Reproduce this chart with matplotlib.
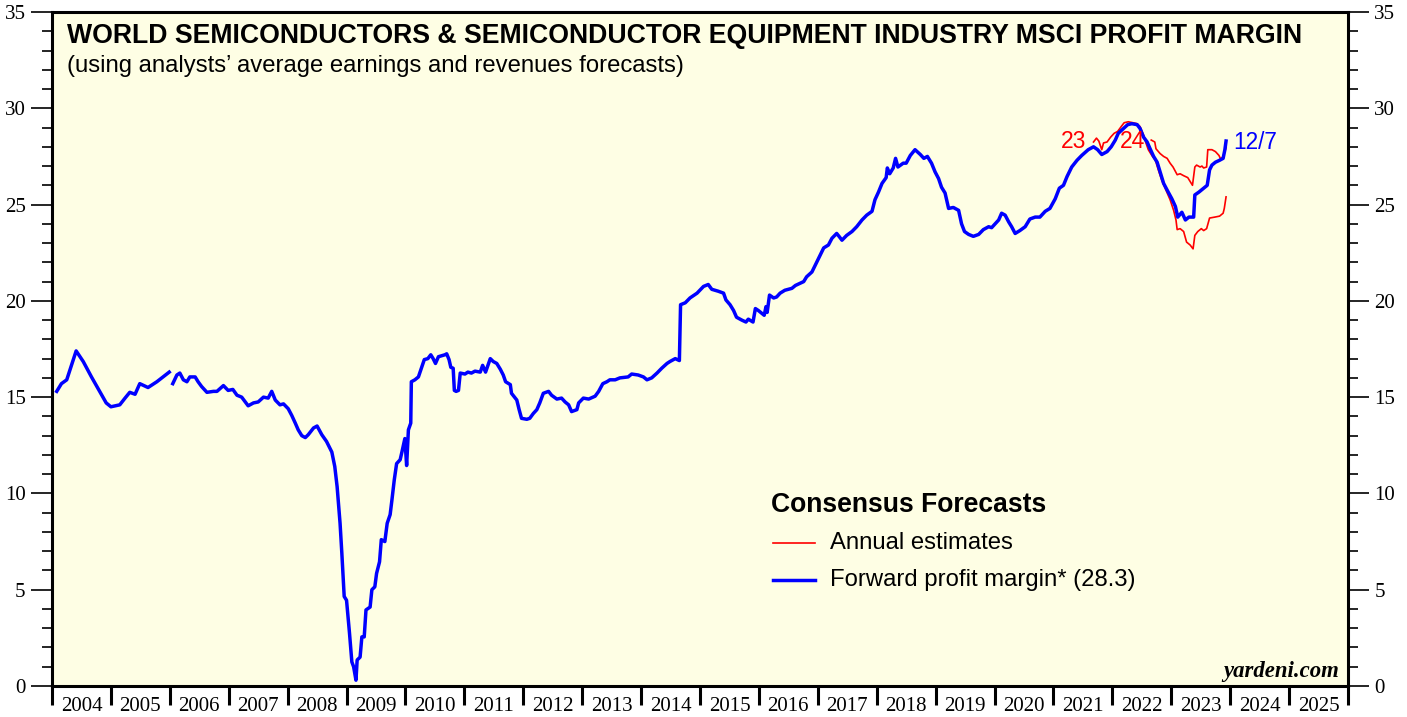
import numpy as np
import matplotlib
matplotlib.use("Agg")
import matplotlib.pyplot as plt
from matplotlib.ticker import MultipleLocator, FixedLocator, NullFormatter

# forward profit margin (blue), NaN marks the gap early 2006
blue_dates = [
    2004.08, 2004.16, 2004.25, 2004.41, 2004.53, 2004.67, 2004.81, 2004.92, 2005.00, 2005.15,
    2005.24, 2005.32, 2005.41, 2005.49, 2005.63, 2005.78, 2005.99, 2006.02,
    2006.05, 2006.12, 2006.17, 2006.23, 2006.29, 2006.34, 2006.43, 2006.48, 2006.54, 2006.63,
    2006.74, 2006.80, 2006.91, 2006.99, 2007.07, 2007.14, 2007.22, 2007.33, 2007.42, 2007.50,
    2007.59, 2007.67, 2007.73, 2007.79, 2007.87, 2007.93, 2008.01, 2008.07, 2008.13, 2008.18,
    2008.24, 2008.30, 2008.35, 2008.44, 2008.50, 2008.58, 2008.66, 2008.75, 2008.80, 2008.84,
    2008.89, 2008.92, 2008.96, 2009.00, 2009.05, 2009.09, 2009.12, 2009.16, 2009.18, 2009.23,
    2009.26, 2009.30, 2009.33, 2009.40, 2009.43, 2009.48, 2009.51, 2009.56, 2009.59, 2009.65,
    2009.69, 2009.74, 2009.77, 2009.81, 2009.85, 2009.91, 2009.94, 2009.99, 2010.02, 2010.05,
    2010.09, 2010.10, 2010.16, 2010.22, 2010.28, 2010.32, 2010.38, 2010.43, 2010.47, 2010.51,
    2010.56, 2010.67, 2010.70, 2010.74, 2010.77, 2010.81, 2010.83, 2010.86, 2010.90, 2010.93,
    2011.01, 2011.06, 2011.12, 2011.18, 2011.27, 2011.31, 2011.36, 2011.44, 2011.49, 2011.55,
    2011.61, 2011.66, 2011.70, 2011.78, 2011.80, 2011.89, 2011.93, 2011.97, 2012.06, 2012.11,
    2012.17, 2012.23, 2012.28, 2012.34, 2012.43, 2012.48, 2012.57, 2012.65, 2012.71, 2012.77,
    2012.82, 2012.91, 2012.94, 2013.02, 2013.11, 2013.22, 2013.28, 2013.35, 2013.42, 2013.47,
    2013.56, 2013.64, 2013.78, 2013.84, 2013.95, 2014.04, 2014.10, 2014.18, 2014.27, 2014.35,
    2014.44, 2014.49, 2014.58, 2014.65, 2014.67, 2014.75, 2014.83, 2014.95, 2015.06, 2015.14,
    2015.20, 2015.31, 2015.40, 2015.44, 2015.51, 2015.57, 2015.62, 2015.71, 2015.78, 2015.82,
    2015.90, 2015.94, 2015.99, 2016.05, 2016.09, 2016.12, 2016.14, 2016.18, 2016.25, 2016.30,
    2016.36, 2016.44, 2016.56, 2016.62, 2016.69, 2016.76, 2016.81, 2016.90, 2016.98, 2017.10,
    2017.18, 2017.24, 2017.32, 2017.36, 2017.41, 2017.49, 2017.58, 2017.66, 2017.75, 2017.83,
    2017.92, 2017.97, 2018.03, 2018.09, 2018.16, 2018.18, 2018.22, 2018.28, 2018.32, 2018.36,
    2018.45, 2018.50, 2018.57, 2018.65, 2018.74, 2018.80, 2018.86, 2018.93, 2018.99, 2019.05,
    2019.10, 2019.16, 2019.22, 2019.30, 2019.39, 2019.44, 2019.49, 2019.56, 2019.64, 2019.73,
    2019.81, 2019.90, 2019.95, 2020.01, 2020.07, 2020.12, 2020.18, 2020.24, 2020.29, 2020.35,
    2020.43, 2020.52, 2020.60, 2020.69, 2020.77, 2020.86, 2020.94, 2021.03, 2021.10, 2021.17,
    2021.23, 2021.31, 2021.40, 2021.48, 2021.59, 2021.68, 2021.75, 2021.82, 2021.91, 2021.98,
    2022.05, 2022.10, 2022.19, 2022.26, 2022.33, 2022.42, 2022.47, 2022.53, 2022.59, 2022.64,
    2022.70, 2022.76, 2022.81, 2022.87, 2022.93, 2023.01, 2023.07, 2023.11, 2023.18, 2023.24,
    2023.30, 2023.38, 2023.40, 2023.47, 2023.55, 2023.61, 2023.65, 2023.69, 2023.75, 2023.82,
    2023.88, 2023.91, 2023.93,
]
blue_values = [
    15.3, 15.7, 15.9, 17.4, 16.85, 16.05, 15.3, 14.7, 14.5, 14.6,
    14.95, 15.25, 15.15, 15.7, 15.5, 15.8, 16.3, np.nan,
    15.7, 16.15, 16.25, 15.9, 15.8, 16.05, 16.05, 15.8, 15.55, 15.25,
    15.3, 15.3, 15.6, 15.35, 15.4, 15.1, 15.0, 14.55, 14.7, 14.75,
    15.0, 14.95, 15.3, 14.85, 14.6, 14.65, 14.4, 14.05, 13.65, 13.3,
    13.0, 12.9, 13.05, 13.4, 13.5, 13.05, 12.7, 12.15, 11.4, 10.35,
    8.45, 6.9, 4.65, 4.45, 2.75, 1.25, 1.0, 0.3, 1.35, 1.5,
    2.55, 2.55, 3.95, 4.1, 5.0, 5.15, 5.85, 6.45, 7.6, 7.5,
    8.45, 8.9, 9.65, 10.7, 11.55, 11.75, 12.15, 12.85, 11.45, 13.3,
    13.65, 15.8, 15.9, 16.05, 16.6, 16.95, 17.0, 17.2, 17.0, 16.75,
    17.1, 17.2, 17.25, 16.95, 16.55, 16.5, 15.35, 15.3, 15.35, 16.25,
    16.2, 16.3, 16.25, 16.35, 16.3, 16.65, 16.3, 17.0, 16.85, 16.75,
    16.45, 16.15, 15.8, 15.65, 15.2, 14.85, 14.35, 13.9, 13.85, 13.9,
    14.15, 14.35, 14.7, 15.2, 15.3, 15.1, 14.9, 14.95, 14.75, 14.6,
    14.25, 14.35, 14.7, 14.95, 14.9, 15.05, 15.3, 15.7, 15.8, 15.9,
    15.9, 16.0, 16.05, 16.2, 16.15, 16.05, 15.9, 16.0, 16.25, 16.5,
    16.75, 16.85, 17.0, 16.9, 19.8, 19.9, 20.15, 20.4, 20.75, 20.85,
    20.6, 20.5, 20.4, 20.05, 19.8, 19.5, 19.15, 19.0, 18.9, 19.05,
    18.9, 19.6, 19.5, 19.35, 19.25, 19.7, 19.4, 20.3, 20.15, 20.2,
    20.4, 20.55, 20.65, 20.8, 20.9, 21.0, 21.25, 21.5, 22.0, 22.75,
    22.9, 23.25, 23.5, 23.35, 23.15, 23.4, 23.6, 23.85, 24.2, 24.45,
    24.65, 25.25, 25.65, 26.1, 26.4, 26.9, 26.6, 26.9, 27.4, 26.95,
    27.15, 27.15, 27.55, 27.85, 27.6, 27.4, 27.5, 27.15, 26.7, 26.35,
    25.9, 25.6, 24.8, 24.85, 24.7, 24.0, 23.6, 23.45, 23.35, 23.45,
    23.7, 23.85, 23.8, 24.0, 24.2, 24.55, 24.45, 24.1, 23.85, 23.5,
    23.65, 23.85, 24.25, 24.35, 24.35, 24.65, 24.8, 25.3, 25.85, 26.0,
    26.45, 26.95, 27.3, 27.55, 27.85, 28.0, 27.85, 27.6, 27.75, 28.0,
    28.35, 28.7, 28.95, 29.15, 29.2, 29.15, 28.95, 28.5, 28.25, 27.9,
    27.5, 27.2, 26.7, 26.1, 25.75, 25.3, 24.9, 24.35, 24.6, 24.2,
    24.35, 24.35, 25.5, 25.65, 25.85, 26.0, 26.8, 27.05, 27.2, 27.3,
    27.4, 27.85, 28.3,
]

# annual estimates (red)
est23_dates = [
    2021.68, 2021.73, 2021.77, 2021.82, 2021.85, 2021.91, 2021.97, 2022.03, 2022.09, 2022.15,
    2022.20, 2022.27, 2022.35, 2022.42, 2022.47, 2022.53, 2022.57, 2022.61, 2022.67, 2022.73,
    2022.78, 2022.84, 2022.91, 2022.98, 2023.04, 2023.08, 2023.10, 2023.15, 2023.21, 2023.26,
    2023.32, 2023.37, 2023.40, 2023.45, 2023.51, 2023.55, 2023.60, 2023.65, 2023.74, 2023.82,
    2023.88, 2023.90, 2023.93,
]
est23_values = [
    28.25, 28.45, 28.3, 27.85, 28.2, 28.25, 28.5, 28.7, 28.8, 29.05,
    29.25, 29.3, 29.25, 29.2, 29.05, 28.6, 28.2, 27.85, 27.55, 27.3,
    26.8, 26.25, 25.75, 25.25, 24.7, 24.2, 23.7, 23.75, 23.6, 23.05,
    22.9, 22.7, 23.4, 23.6, 23.75, 23.65, 23.75, 24.3, 24.35, 24.4,
    24.55, 24.8, 25.4,
]
est24_dates = [
    2022.66, 2022.72, 2022.74, 2022.81, 2022.87, 2022.93, 2022.98, 2023.03, 2023.10, 2023.15,
    2023.21, 2023.28, 2023.32, 2023.36, 2023.40, 2023.43, 2023.49, 2023.52, 2023.55, 2023.60,
    2023.62, 2023.69, 2023.75, 2023.81, 2023.84, 2023.88, 2023.93,
]
est24_values = [
    28.35, 28.25, 27.9, 27.65, 27.5, 27.4, 27.15, 26.95, 26.55, 26.6,
    26.5, 26.4, 26.2, 26.0, 26.95, 27.05, 26.95, 27.0, 26.9, 26.95,
    27.85, 27.85, 27.75, 27.55, 27.35, 27.5, 27.95,
]

years = list(range(2004, 2026))
latest = 28.3

sans = "Liberation Sans"
serif = "Liberation Serif"

fig = plt.figure(figsize=(14.07, 7.17), dpi=100)
ax = fig.add_axes([52 / 1407, 31 / 717, 1296 / 1407, 674 / 717])
ax.set_facecolor("#fefee4")

ax.plot(est23_dates, est23_values, color="#ff0000", linewidth=1.2)
ax.plot(est24_dates, est24_values, color="#ff0000", linewidth=1.2)
ax.plot(blue_dates, blue_values, color="#0000ff", linewidth=2.5)

ax.set_xlim(2004, 2026)
ax.set_ylim(0, 35)

for side in ax.spines.values():
    side.set_linewidth(2.2)
    side.set_color("black")

# y axis ticks on both sides
ax.yaxis.set_major_locator(MultipleLocator(5))
ax.yaxis.set_minor_locator(MultipleLocator(1))
ax.tick_params(axis="y", which="both", left=True, right=True,
               labelleft=True, labelright=True, direction="out")
ax.tick_params(axis="y", which="major", length=15, width=1.2, pad=4,
               labelsize=15)
ax.tick_params(axis="y", which="minor", length=7, width=1.2)
for lab in ax.get_yticklabels():
    lab.set_fontfamily(serif)

# x axis: year boundaries as ticks, year names centred between
ax.xaxis.set_major_locator(FixedLocator(years + [2026]))
ax.xaxis.set_major_formatter(NullFormatter())
ax.xaxis.set_minor_locator(FixedLocator([y + 0.5 for y in years]))
ax.set_xticklabels([str(y) for y in years], minor=True)
ax.tick_params(axis="x", which="major", length=14, width=2.2, direction="out")
ax.tick_params(axis="x", which="minor", length=0, pad=8, labelsize=15)
for lab in ax.get_xticklabels(minor=True):
    lab.set_fontfamily(serif)

# titles
ax.text(0.0115, 0.965, "WORLD SEMICONDUCTORS & SEMICONDUCTOR EQUIPMENT INDUSTRY MSCI PROFIT MARGIN",
        transform=ax.transAxes, fontsize=19.2, fontweight="bold", family=sans,
        va="center", ha="left")
ax.text(0.0115, 0.92, "(using analysts\u2019 average earnings and revenues forecasts)",
        transform=ax.transAxes, fontsize=17.2, family=sans, va="center", ha="left")

# labels on the lines
ax.text(est23_dates[0] - 0.12, 28.3, "23", color="#ff0000", fontsize=16.5,
        family=sans, ha="right", va="center")
ax.text(est24_dates[0] - 0.1, 28.3, "24", color="#ff0000", fontsize=16.5,
        family=sans, ha="right", va="center")
ax.text(blue_dates[-1] + 0.12, 28.2, "12/7", color="#0000ff", fontsize=16.3,
        family=sans, ha="left", va="center")

# legend drawn by hand
ax.text(0.555, 0.268, "Consensus Forecasts", transform=ax.transAxes,
        fontsize=19.1, fontweight="bold", family=sans, va="center", ha="left")
ax.plot([0.556, 0.589], [0.212, 0.212], transform=ax.transAxes,
        color="#ff0000", linewidth=1.2)
ax.text(0.6, 0.212, "Annual estimates", transform=ax.transAxes,
        fontsize=17.2, family=sans, va="center", ha="left")
ax.plot([0.556, 0.589], [0.157, 0.157], transform=ax.transAxes,
        color="#0000ff", linewidth=2.5)
ax.text(0.6, 0.157, f"Forward profit margin* ({latest})", transform=ax.transAxes,
        fontsize=17.2, family=sans, va="center", ha="left")

ax.text(0.993, 0.022, "yardeni.com", transform=ax.transAxes, fontsize=16.4,
        fontweight="bold", fontstyle="italic", family=serif,
        ha="right", va="center")

fig.savefig("out.png", dpi=100, facecolor="white")
